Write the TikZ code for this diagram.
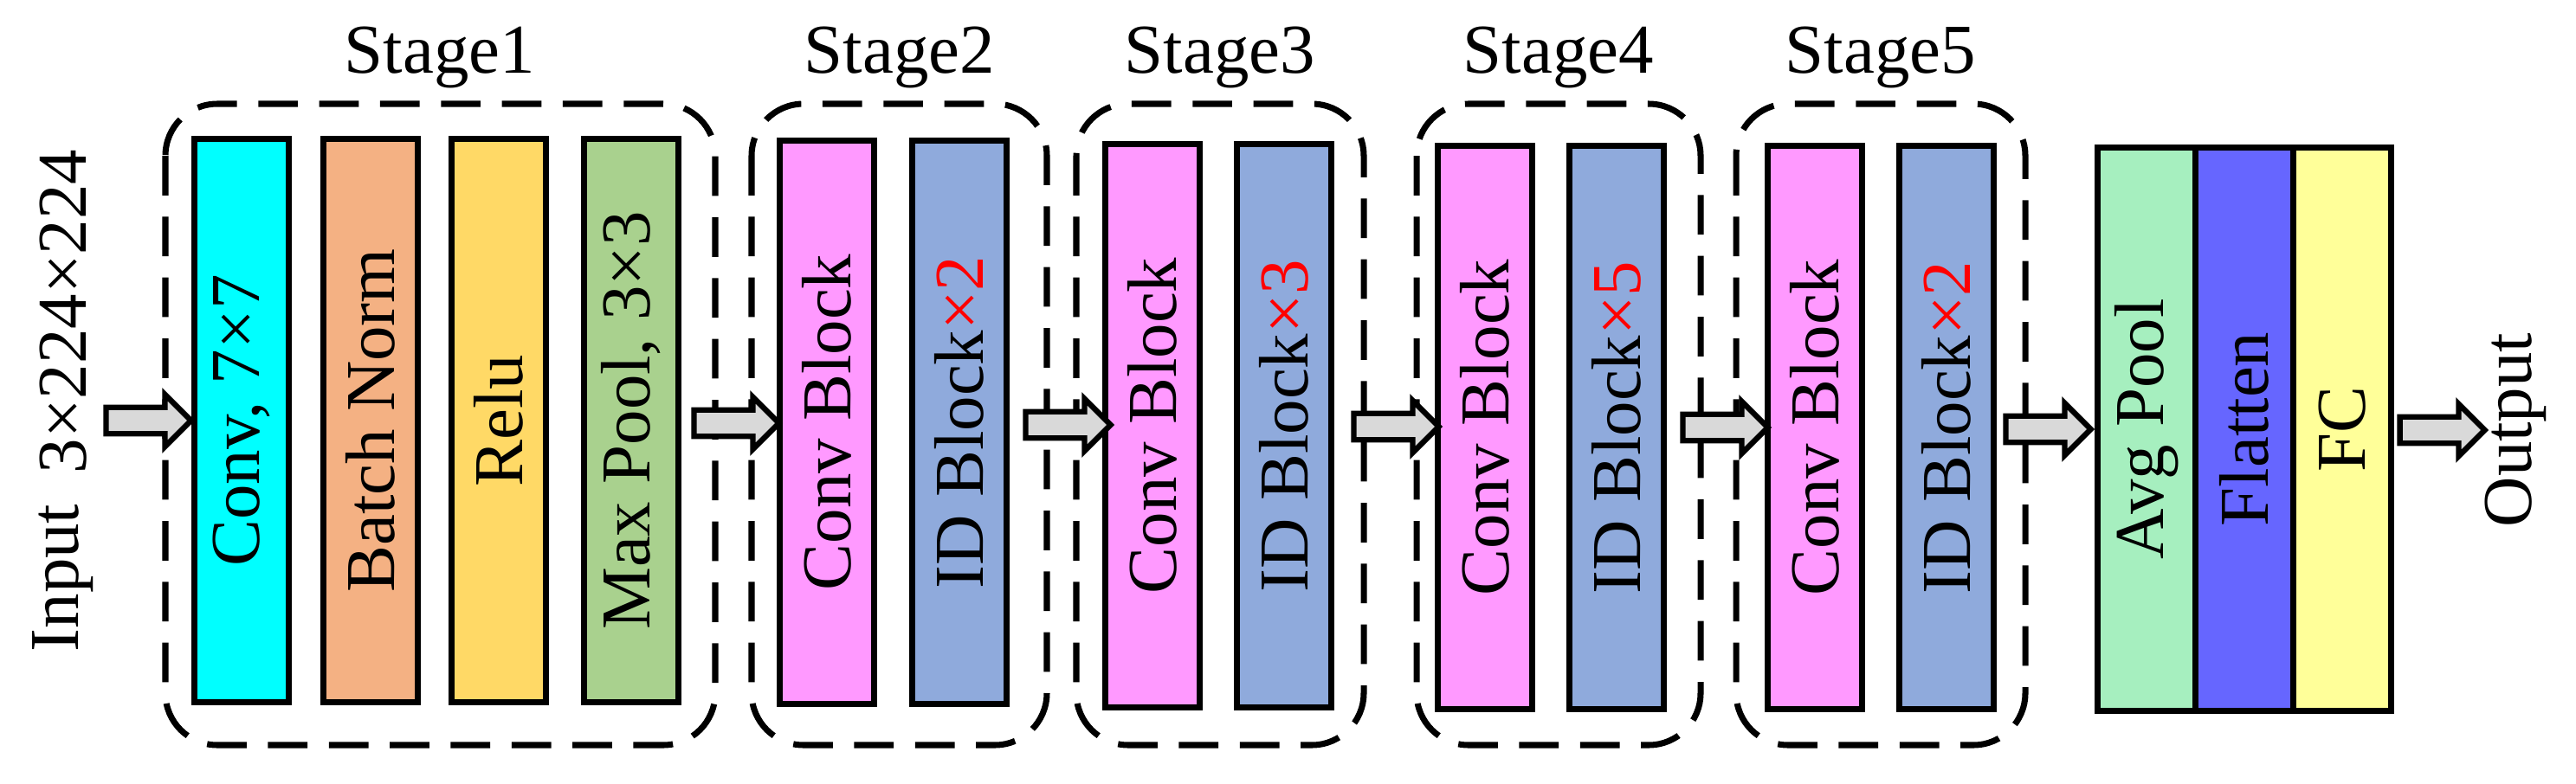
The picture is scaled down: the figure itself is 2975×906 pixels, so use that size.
\documentclass[tikz,border=0pt]{standalone}
\usepackage{fontspec}
\setmainfont{Liberation Serif}
\usetikzlibrary{shapes.arrows}
\definecolor{cA}{HTML}{00FFFF}
\definecolor{cB}{HTML}{F4B183}
\definecolor{cC}{HTML}{FFD966}
\definecolor{cD}{HTML}{A9D18E}
\definecolor{cE}{HTML}{FF99FF}
\definecolor{cF}{HTML}{8FAADC}
\definecolor{cG}{HTML}{A6EFBF}
\definecolor{cH}{HTML}{6666FF}
\definecolor{cI}{HTML}{FFFF99}
\begin{document}
\begin{tikzpicture}[x=0.01cm,y=-0.01cm,
  blk/.style={draw=black,line width=2pt,rotate=90,inner sep=0pt,minimum width=6.5cm,minimum height=1.09cm,font=\fontsize{23}{26}\selectfont},
  fblk/.style={draw=black,line width=2pt,rotate=90,inner sep=0pt,minimum width=6.5cm,minimum height=1.13cm,font=\fontsize{23}{26}\selectfont},
  stagebox/.style={draw=black,line width=2pt,dash pattern=on 13pt off 7pt,rounded corners=0.6cm},
  slabel/.style={font=\fontsize{23}{26}\selectfont},
  rtext/.style={rotate=90,font=\fontsize{23}{26}\selectfont},
  garrow/.style={single arrow,draw=black,line width=1.8pt,fill=gray!30,inner sep=0.12cm,minimum height=0.98cm,single arrow head extend=0.15cm}]
\useasboundingbox (0,0) rectangle (2975,906);
% stage boxes
\draw[stagebox] (191,120) rectangle (826,861);
\draw[stagebox] (868,120) rectangle (1209,861);
\draw[stagebox] (1243,120) rectangle (1575,861);
\draw[stagebox] (1636,120) rectangle (1964,861);
\draw[stagebox] (2005,120) rectangle (2339,861);
\node[slabel] (l1) at (508,66) {Stage1};
\node[slabel] (l2) at (1039,66) {Stage2};
\node[slabel] (l3) at (1409,66) {Stage3};
\node[slabel] (l4) at (1800,66) {Stage4};
\node[slabel] (l5) at (2172,66) {Stage5};
% blocks
\node[blk,fill=cA] (c1) at (279,486) {Conv, 7×7};
\node[blk,fill=cB] (bn) at (428,486) {Batch Norm};
\node[blk,fill=cC] (re) at (576,486) {Relu};
\node[blk,fill=cD] (mp) at (729,486) {Max Pool, 3×3};
\node[blk,fill=cE] (s2c) at (955,488) {Conv Block};
\node[blk,fill=cF] (s2i) at (1108,488) {ID Block\textcolor{red}{×2}};
\node[blk,fill=cE] (s3c) at (1331,492) {Conv Block};
\node[blk,fill=cF] (s3i) at (1483,492) {ID Block\textcolor{red}{×3}};
\node[blk,fill=cE] (s4c) at (1715,494) {Conv Block};
\node[blk,fill=cF] (s4i) at (1867,494) {ID Block\textcolor{red}{×5}};
\node[blk,fill=cE] (s5c) at (2096,494) {Conv Block};
\node[blk,fill=cF] (s5i) at (2248,494) {ID Block\textcolor{red}{×2}};
\node[fblk,fill=cG] (ap) at (2479,496) {Avg Pool};
\node[fblk,fill=cH] (fl) at (2592,496) {Flatten};
\node[fblk,fill=cI] (fc) at (2705,496) {FC};
% texts
\node[rtext] (in) at (73,668) {Input};
\node[rtext] (sz) at (73,360) {3×224×224};
\node[rtext] (out) at (2905,497) {Output};
% arrows
\node[garrow] (a0) at (164,486) {};
\node[garrow] (a1) at (843,489) {};
\node[garrow] (a2) at (1226,491) {};
\node[garrow] (a3) at (1605,493) {};
\node[garrow] (a4) at (1985,494) {};
\node[garrow] (a5) at (2358,496) {};
\node[garrow] (a6) at (2813,497) {};
\end{tikzpicture}
\end{document}
